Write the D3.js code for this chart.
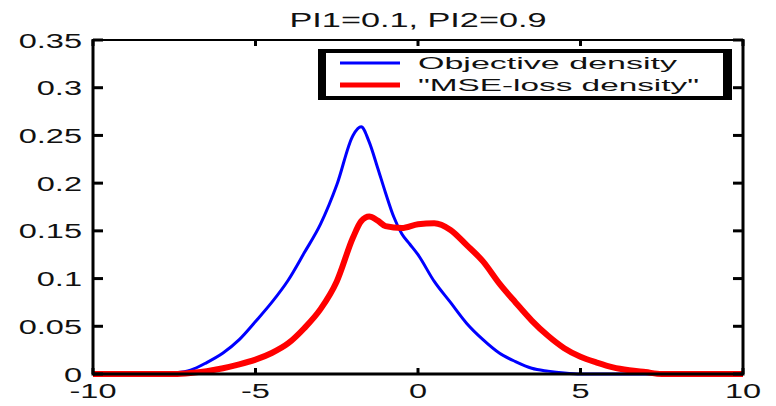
<!DOCTYPE html>
<html>
<head>
<meta charset="utf-8">
<script src="https://cdn.jsdelivr.net/npm/d3@7"></script>
<style>
  body { margin: 0; background: #fff; }
  text { font-family: "Liberation Sans", Arial, sans-serif; fill: #111; }
</style>
</head>
<body>
<div id="chart"></div>
<script>
// values
var title = "PI1=0.1, PI2=0.9";
var seriesNames = ["Objective density", "\"MSE-loss density\""];

var objX = [-10, -8, -7.5, -7, -6.5, -6, -5.5, -5, -4.5, -4, -3.5, -3, -2.5, -2, -1.75, -1.5, -1.25, -1, -0.75, -0.5, -0.25, 0, 0.5, 1, 1.5, 2, 2.5, 3, 3.5, 4, 4.5, 5, 6, 8, 10];
var objY = [0, 0, 0.001, 0.004, 0.012, 0.022, 0.036, 0.055, 0.075, 0.098, 0.127, 0.157, 0.198, 0.25, 0.259, 0.243, 0.217, 0.19, 0.165, 0.147, 0.136, 0.125, 0.097, 0.075, 0.053, 0.036, 0.022, 0.013, 0.006, 0.003, 0.001, 0, 0, 0, 0];

var mseX = [-10, -8, -7.5, -7, -6.5, -6, -5.5, -5, -4.5, -4, -3.5, -3, -2.5, -2, -1.75, -1.5, -1.25, -1, -0.5, 0, 0.5, 1, 1.5, 2, 2.5, 3, 3.5, 4, 4.5, 5, 5.5, 6, 6.5, 7, 7.5, 8, 10];
var mseY = [0, 0, 0, 0.001, 0.003, 0.006, 0.01, 0.015, 0.022, 0.032, 0.048, 0.068, 0.097, 0.143, 0.16, 0.165, 0.161, 0.155, 0.153, 0.157, 0.158, 0.151, 0.135, 0.118, 0.095, 0.075, 0.056, 0.04, 0.027, 0.018, 0.012, 0.007, 0.004, 0.002, 0, 0, 0];

var xTicks = [-10, -5, 0, 5, 10];
var yTicks = [0, 0.05, 0.1, 0.15, 0.2, 0.25, 0.3, 0.35];

var W = 776, H = 406;
var margin = {top: 40, right: 33, bottom: 32, left: 93};
var width = W - margin.left - margin.right;
var height = H - margin.top - margin.bottom;
var stretch = 1.55;

var svg = d3.select("#chart").append("svg")
    .attr("width", W)
    .attr("height", H);

var x = d3.scaleLinear().domain([-10, 10]).range([margin.left, margin.left + width]);
var y = d3.scaleLinear().domain([0, 0.35]).range([margin.top + height, margin.top]);

// title
svg.append("text")
    .attr("x", x(0))
    .attr("y", 27)
    .attr("text-anchor", "middle")
    .attr("font-size", 21)
    .attr("textLength", 257)
    .attr("lengthAdjust", "spacingAndGlyphs")
    .text(title);

// curves
var line = d3.line()
    .x(function(d) { return x(d[0]); })
    .y(function(d) { return y(d[1]); })
    .curve(d3.curveMonotoneX);

svg.append("path")
    .datum(d3.zip(objX, objY))
    .attr("fill", "none")
    .attr("stroke", "#0000ff")
    .attr("stroke-width", 3)
    .attr("d", line);

svg.append("path")
    .datum(d3.zip(mseX, mseY))
    .attr("fill", "none")
    .attr("stroke", "#ff0000")
    .attr("stroke-width", 6)
    .attr("stroke-linejoin", "round")
    .attr("d", line);

// frame
var frame = svg.append("g").attr("stroke", "#000");
frame.append("line").attr("x1", x(-10)).attr("x2", x(10)).attr("y1", y(0.35)).attr("y2", y(0.35)).attr("stroke-width", 2);
frame.append("line").attr("x1", x(-10)).attr("x2", x(10)).attr("y1", y(0)).attr("y2", y(0)).attr("stroke-width", 3);
frame.append("line").attr("x1", x(-10)).attr("x2", x(-10)).attr("y1", y(0) + 1.5).attr("y2", y(0.35) - 1).attr("stroke-width", 3);
frame.append("line").attr("x1", x(10)).attr("x2", x(10)).attr("y1", y(0) + 1.5).attr("y2", y(0.35) - 1).attr("stroke-width", 3);

// inward ticks
xTicks.forEach(function(t) {
  frame.append("line").attr("x1", x(t)).attr("x2", x(t)).attr("y1", y(0)).attr("y2", y(0) - 6).attr("stroke-width", 3);
  frame.append("line").attr("x1", x(t)).attr("x2", x(t)).attr("y1", y(0.35)).attr("y2", y(0.35) + 6).attr("stroke-width", 3);
});
yTicks.forEach(function(t) {
  frame.append("line").attr("x1", x(-10)).attr("x2", x(-10) + 10).attr("y1", y(t)).attr("y2", y(t)).attr("stroke-width", 3);
  frame.append("line").attr("x1", x(10)).attr("x2", x(10) - 10).attr("y1", y(t)).attr("y2", y(t)).attr("stroke-width", 3);
});

// tick labels (stretched wide like the original)
svg.selectAll(".xlab").data(xTicks).enter().append("text")
    .attr("transform", function(d) { return "translate(" + x(d) + "," + 398 + ") scale(" + stretch + ",1)"; })
    .attr("text-anchor", "middle")
    .attr("font-size", 21)
    .text(function(d) { return d; });

svg.selectAll(".ylab").data(yTicks).enter().append("text")
    .attr("transform", function(d) { return "translate(" + 82 + "," + (y(d) + 7.5) + ") scale(" + stretch + ",1)"; })
    .attr("text-anchor", "end")
    .attr("font-size", 21)
    .text(function(d) { return d; });

// legend
var legend = svg.append("g");
legend.append("rect").attr("x", 318).attr("y", 49).attr("width", 414).attr("height", 51).attr("fill", "#000");
legend.append("rect").attr("x", 326).attr("y", 53).attr("width", 397).attr("height", 43).attr("fill", "#fff");

var legColors = ["#0000ff", "#ff0000"];
var legWidths = [3, 5];
var legRows = [63, 85];
var legTextLen = [259, 281];
seriesNames.forEach(function(name, i) {
  legend.append("line")
      .attr("x1", 340).attr("x2", 400)
      .attr("y1", legRows[i]).attr("y2", legRows[i])
      .attr("stroke", legColors[i])
      .attr("stroke-width", legWidths[i]);
  legend.append("text")
      .attr("x", 418)
      .attr("y", legRows[i] + 6)
      .attr("font-size", 17)
      .attr("textLength", legTextLen[i])
      .attr("lengthAdjust", "spacingAndGlyphs")
      .text(name);
});
</script>
</body>
</html>
